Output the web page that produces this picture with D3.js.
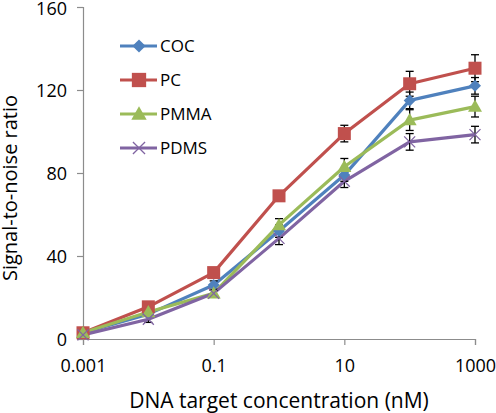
<!DOCTYPE html>
<html><head><meta charset="utf-8">
<script src="https://cdn.jsdelivr.net/npm/d3@7"></script>
<style>body{margin:0;background:#fff}svg{display:block}text{font-family:"Open Sans",sans-serif;fill:#000}</style>
</head><body><svg id="c" width="496" height="413"></svg>
<script>
const concentrations = [0.001, 0.01, 0.1, 1, 10, 100, 1000];
const xTicks = [0.001, 0.1, 10, 1000];
const yTicks = [0, 40, 80, 120, 160];
const seriesNames = ["COC", "PC", "PMMA", "PDMS"];
const cocValues = [3, 12, 26, 52, 79, 115, 122];
const pcValues = [3, 15.5, 32, 69, 99, 123, 130.5];
const pmmaValues = [3, 13, 22, 55, 83, 105.5, 112];
const pdmsValues = [2, 9.5, 22, 48.5, 76, 95, 98.5];
const cocErr = [0.5, 1, 2, 3, 3, 4, 4];
const pcErr = [0.5, 1.5, 2, 2.5, 4, 6, 6.5];
const pmmaErr = [0.5, 1, 1.5, 3, 4, 5, 5];
const pdmsErr = [0.5, 1.5, 1.5, 3, 3, 4, 4];
const colors = ["#4F81BD", "#C0504D", "#9BBB59", "#8064A2"];
const symbols = ["diamond", "square", "triangle", "x"];

const allValues = [cocValues, pcValues, pmmaValues, pdmsValues];
const allErr = [cocErr, pcErr, pmmaErr, pdmsErr];

const svg = d3.select("#c");
const x = d3.scaleLog().domain([0.001, 1000]).range([83, 475]);
const y = d3.scaleLinear().domain([0, 160]).range([339, 7]);

// axes
const xAxis = svg.append("g").attr("transform", "translate(0,339)")
  .call(d3.axisBottom(x).tickValues(xTicks).tickFormat(d => String(d)).tickSizeOuter(0).tickSize(6).tickPadding(8));
const yAxis = svg.append("g").attr("transform", "translate(83,0)")
  .call(d3.axisLeft(y).tickValues(yTicks).tickSizeOuter(0).tickSize(6).tickPadding(10));
[xAxis, yAxis].forEach(a => {
  a.select(".domain").attr("stroke", "#8c8c8c").attr("stroke-width", 1.2);
  a.selectAll(".tick line").attr("stroke", "#8c8c8c").attr("stroke-width", 1.2);
  a.selectAll(".tick text").attr("font-size", 18).attr("font-family", "'Open Sans', sans-serif").attr("fill", "#000");
});
xAxis.selectAll(".tick text").attr("dy", null).attr("y", 33);
yAxis.selectAll(".tick text").attr("dy", "0.36em");
yAxis.selectAll(".tick").filter(d => d === 160).select("text").attr("dy", "0.42em");

// lines
const line = d3.line().x((d, i) => x(concentrations[i])).y(d => y(d));
allValues.forEach((vals, s) => {
  svg.append("path").attr("d", line(vals)).attr("fill", "none")
    .attr("stroke", colors[s]).attr("stroke-width", 3.2).attr("stroke-linejoin", "round");
});

function drawMarker(g, type, cx, cy, color, k) {
  k = k || 1;
  if (type === "diamond") {
    const r = 6 * k;
    g.append("path").attr("d", `M${cx},${cy-r}L${cx+r},${cy}L${cx},${cy+r}L${cx-r},${cy}Z`).attr("fill", color);
  } else if (type === "square") {
    const r = 6.5 * k;
    g.append("rect").attr("x", cx-r).attr("y", cy-r).attr("width", 2*r).attr("height", 2*r).attr("fill", color);
  } else if (type === "triangle") {
    const r = 7 * k;
    g.append("path").attr("d", `M${cx},${cy-r}L${cx+r},${cy+r*0.75}L${cx-r},${cy+r*0.75}Z`).attr("fill", color);
  } else {
    const r = 5.5 * k;
    g.append("path").attr("d", `M${cx-r},${cy-r}L${cx+r},${cy+r}M${cx-r},${cy+r}L${cx+r},${cy-r}`)
      .attr("stroke", color).attr("stroke-width", 1.3).attr("fill", "none");
  }
}

// error bars
allValues.forEach((vals, s) => {
  const g = svg.append("g");
  vals.forEach((v, i) => {
    const cx = x(concentrations[i]);
    const e = allErr[s][i];
    const y1 = y(v + e), y2 = y(v - e);
    g.append("line").attr("x1", cx).attr("x2", cx).attr("y1", y1).attr("y2", y2).attr("stroke", "#000").attr("stroke-width", 1.3);
    [y1, y2].forEach(yy => g.append("line").attr("x1", cx-4).attr("x2", cx+4).attr("y1", yy).attr("y2", yy).attr("stroke", "#000").attr("stroke-width", 1.3));
  });
});

// markers
allValues.forEach((vals, s) => {
  const g = svg.append("g");
  vals.forEach((v, i) => drawMarker(g, symbols[s], x(concentrations[i]), y(v), colors[s]));
});

// legend
const legendY = [46, 80, 114, 148];
seriesNames.forEach((name, s) => {
  const g = svg.append("g");
  g.append("line").attr("x1", 120).attr("x2", 157).attr("y1", legendY[s]).attr("y2", legendY[s])
    .attr("stroke", colors[s]).attr("stroke-width", 3.2);
  drawMarker(g, symbols[s], 139, legendY[s], colors[s], 1.1);
  g.append("text").attr("x", 160).attr("y", legendY[s]).attr("dy", "0.36em").attr("font-size", 17).text(name);
});

// axis titles
svg.append("text").attr("x", 279).attr("y", 408).attr("text-anchor", "middle").attr("font-size", 21).text("DNA target concentration (nM)");
svg.append("text").attr("transform", "translate(17,188) rotate(-90)").attr("text-anchor", "middle").attr("font-size", 20).text("Signal-to-noise ratio");
</script></body></html>
